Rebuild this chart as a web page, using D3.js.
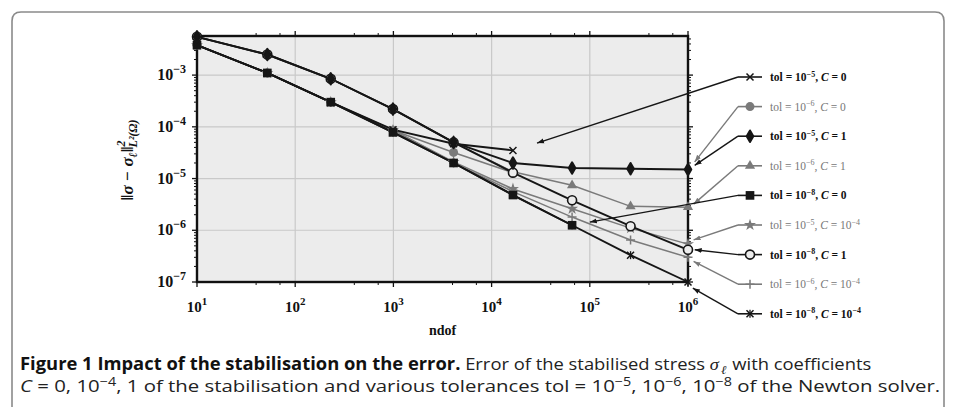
<!DOCTYPE html>
<html>
<head>
<meta charset="utf-8">
<script src="https://cdn.jsdelivr.net/npm/d3@7"></script>
<style>
body { margin: 0; background: #fff; }
</style>
</head>
<body>
<script>
// degrees of freedom (x values)
var ndof = [10, 52, 230, 990, 4100, 16500, 66000, 260000, 1000000];

// error values per series, legend order
var tol5C0    = [3.8e-3, 1.1e-3, 3.0e-4, 8.8e-5, 4.7e-5, 3.5e-5];
var tol6C0    = [3.8e-3, 1.1e-3, 3.0e-4, 8.6e-5, 3.2e-5, 1.3e-5];
var tol5C1    = [5.5e-3, 2.5e-3, 8.5e-4, 2.2e-4, 5.0e-5, 2.0e-5, 1.6e-5, 1.55e-5, 1.5e-5];
var tol6C1    = [5.5e-3, 2.5e-3, 8.5e-4, 2.2e-4, 5.0e-5, 1.35e-5, 7.4e-6, 2.9e-6, 2.8e-6];
var tol8C0    = [3.8e-3, 1.1e-3, 3.0e-4, 7.8e-5, 2.0e-5, 4.8e-6, 1.25e-6];
var tol5C1e4  = [3.8e-3, 1.1e-3, 3.0e-4, 8.6e-5, 2.1e-5, 6.3e-6, 2.6e-6, 1.1e-6, 5.4e-7];
var tol8C1    = [5.5e-3, 2.5e-3, 8.5e-4, 2.2e-4, 5.0e-5, 1.3e-5, 3.8e-6, 1.2e-6, 4.2e-7];
var tol6C1e4  = [3.8e-3, 1.1e-3, 3.0e-4, 8.6e-5, 2.0e-5, 5.6e-6, 1.8e-6, 6.5e-7, 3.0e-7];
var tol8C1e4  = [3.8e-3, 1.1e-3, 3.0e-4, 7.8e-5, 2.0e-5, 4.8e-6, 1.25e-6, 3.3e-7, 1.0e-7];

// where each legend arrow points (ndof, error)
var arrowNdof  = [29000, 1.17e6, 1.17e6, 1.14e6, 1.0e5, 1.14e6, 1.17e6, 1.14e6, 1.12e6];
var arrowError = [4.85e-5, 2.1e-5, 1.8e-5, 3.2e-6, 1.44e-6, 6.5e-7, 4.2e-7, 2.5e-7, 7.6e-8];

// legend labels
var tolExp = ["−5", "−6", "−5", "−6", "−8", "−5", "−8", "−6", "−8"];
var cBase  = ["0", "0", "1", "1", "0", "10", "1", "10", "10"];
var cExp   = ["", "", "", "", "", "−4", "", "−4", "−4"];

var xTickExp = ["1", "2", "3", "4", "5", "6"];
var yTickExp = ["−3", "−4", "−5", "−6", "−7"];

var allSeries = [tol5C0, tol6C0, tol5C1, tol6C1, tol8C0, tol5C1e4, tol8C1, tol6C1e4, tol8C1e4];
var markers = ["x", "dot", "diamond", "triangle", "square", "star", "ocircle", "plus", "asterisk"];
var black = "#161616", gray = "#7a7a7a";
var colors = [black, gray, black, gray, black, gray, black, gray, black];
var drawOrder = [1, 3, 5, 7, 6, 0, 4, 8, 2];

var width = 956, height = 407;
var svg = d3.select("body").append("svg")
  .attr("width", width).attr("height", height)
  .style("font-family", "'Liberation Serif', 'DejaVu Serif', serif");

// outer frame
svg.append("path")
  .attr("d", "M12,407 V21 Q12,12 21,12 H935 Q944,12 944,21 V407")
  .attr("fill", "none").attr("stroke", "#8a8a8a").attr("stroke-width", 1.6);

var x = d3.scaleLog().domain([10, 1e6]).range([197, 688]);
var y = d3.scaleLog().domain([1e-7, 5.7e-3]).range([282, 36]);

var plot = svg.append("g");
plot.append("rect")
  .attr("x", x(10)).attr("y", y(5.7e-3))
  .attr("width", x(1e6) - x(10)).attr("height", y(1e-7) - y(5.7e-3))
  .attr("fill", "#ececec");

// grid
var xDecades = [10, 100, 1000, 1e4, 1e5, 1e6];
var yDecades = [1e-3, 1e-4, 1e-5, 1e-6, 1e-7];
plot.selectAll(".gx").data(xDecades.slice(1, -1)).enter().append("line")
  .attr("x1", function(d){ return x(d); }).attr("x2", function(d){ return x(d); })
  .attr("y1", y(5.7e-3)).attr("y2", y(1e-7))
  .attr("stroke", "#c9c9c9").attr("stroke-width", 1.2);
plot.selectAll(".gy").data(yDecades.slice(0, -1)).enter().append("line")
  .attr("x1", x(10)).attr("x2", x(1e6))
  .attr("y1", function(d){ return y(d); }).attr("y2", function(d){ return y(d); })
  .attr("stroke", "#c9c9c9").attr("stroke-width", 1.2);

// ticks
var xMinor = [];
xDecades.slice(0, -1).forEach(function(d){ xMinor.push(d * 4, d * 7); });
var yMinor = [];
[1e-7, 1e-6, 1e-5, 1e-4, 1e-3].forEach(function(d){
  for (var k = 2; k <= 9; k++) if (d * k <= 5.7e-3) yMinor.push(d * k);
});
var tk = svg.append("g").attr("stroke", "#111");
xDecades.forEach(function(d){
  tk.append("line").attr("x1", x(d)).attr("x2", x(d)).attr("y1", y(5.7e-3)).attr("y2", y(5.7e-3) - 5).attr("stroke-width", 1.3);
  tk.append("line").attr("x1", x(d)).attr("x2", x(d)).attr("y1", y(1e-7)).attr("y2", y(1e-7) + 5).attr("stroke-width", 1.3);
});
xMinor.forEach(function(d){
  tk.append("line").attr("x1", x(d)).attr("x2", x(d)).attr("y1", y(5.7e-3)).attr("y2", y(5.7e-3) - 3).attr("stroke-width", 1);
  tk.append("line").attr("x1", x(d)).attr("x2", x(d)).attr("y1", y(1e-7)).attr("y2", y(1e-7) + 3).attr("stroke-width", 1);
});
yDecades.forEach(function(d){
  tk.append("line").attr("x1", x(10)).attr("x2", x(10) - 5).attr("y1", y(d)).attr("y2", y(d)).attr("stroke-width", 1.3);
  tk.append("line").attr("x1", x(1e6)).attr("x2", x(1e6) + 5).attr("y1", y(d)).attr("y2", y(d)).attr("stroke-width", 1.3);
});
yMinor.forEach(function(d){
  tk.append("line").attr("x1", x(10)).attr("x2", x(10) - 3).attr("y1", y(d)).attr("y2", y(d)).attr("stroke-width", 1);
  tk.append("line").attr("x1", x(1e6)).attr("x2", x(1e6) + 3).attr("y1", y(d)).attr("y2", y(d)).attr("stroke-width", 1);
});

// plot border
svg.append("rect")
  .attr("x", x(10)).attr("y", y(5.7e-3))
  .attr("width", x(1e6) - x(10)).attr("height", y(1e-7) - y(5.7e-3))
  .attr("fill", "none").attr("stroke", "#111").attr("stroke-width", 2.4);

// tick labels
xDecades.forEach(function(d, i){
  var t = svg.append("text").attr("x", x(d)).attr("y", 312)
    .attr("text-anchor", "middle").attr("font-weight", "bold").attr("font-size", 15).attr("fill", "#111");
  t.append("tspan").text("10");
  t.append("tspan").attr("dy", -7).attr("font-size", 11).text(xTickExp[i]);
});
yDecades.forEach(function(d, i){
  var t = svg.append("text").attr("x", 186).attr("y", y(d) + 5)
    .attr("text-anchor", "end").attr("font-weight", "bold").attr("font-size", 16).attr("fill", "#111");
  t.append("tspan").text("10");
  t.append("tspan").attr("dy", -7).attr("font-size", 12).text(yTickExp[i]);
});

svg.append("text").attr("x", (x(10) + x(1e6)) / 2).attr("y", 335)
  .attr("text-anchor", "middle").attr("font-weight", "bold").attr("font-size", 14)
  .attr("fill", "#111").text("ndof");

// y axis label
var yl = svg.append("text").attr("transform", "translate(133,160) rotate(-90)")
  .attr("text-anchor", "middle").attr("font-weight", "bold").attr("font-style", "italic")
  .attr("font-size", 17).attr("fill", "#111");
yl.append("tspan").text("‖σ − σ");
yl.append("tspan").attr("dy", 4).attr("font-size", 12).text("ℓ");
yl.append("tspan").attr("dy", -4).text("‖");
yl.append("tspan").attr("dy", -8).attr("font-size", 12).text("2");
yl.append("tspan").attr("dx", -7).attr("dy", 12).attr("font-size", 12).text("L²(Ω)");

// series lines
var line = d3.line()
  .x(function(d, i){ return x(ndof[i]); })
  .y(function(d){ return y(d); });

function drawMarker(g, type, cx, cy, col){
  var m = g.append("g").attr("transform", "translate(" + cx + "," + cy + ")");
  if (type === "x" || type === "asterisk") {
    m.append("path").attr("d", "M-3.5,-3.5L3.5,3.5M-3.5,3.5L3.5,-3.5").attr("stroke", col).attr("stroke-width", 1.5);
    if (type === "asterisk") m.append("path").attr("d", "M0,-4V4").attr("stroke", col).attr("stroke-width", 1.3);
  } else if (type === "plus") {
    m.append("path").attr("d", "M-4.5,0H4.5M0,-4.5V4.5").attr("stroke", col).attr("stroke-width", 1.5);
  } else if (type === "ocircle") {
    m.append("circle").attr("r", 4.5).attr("fill", "#ececec").attr("stroke", col).attr("stroke-width", 1.6);
  } else if (type === "dot") {
    m.append("circle").attr("r", 4.5).attr("fill", col);
  } else {
    var sym = { diamond: [d3.symbolDiamond, 38], triangle: [d3.symbolTriangle, 45],
                square: [d3.symbolSquare, 75], star: [d3.symbolStar, 45] }[type];
    m.append("path").attr("d", d3.symbol().type(sym[0]).size(sym[1])()).attr("fill", col)
      .attr("stroke", col).attr("stroke-width", type === "diamond" ? 2 : 0).attr("stroke-linejoin", "round");
  }
}

var lines = svg.append("g");
drawOrder.forEach(function(k){
  lines.append("path").attr("d", line(allSeries[k])).attr("fill", "none")
    .attr("stroke", colors[k]).attr("stroke-width", colors[k] === black ? 1.9 : 1.5);
});
drawOrder.forEach(function(k){
  allSeries[k].forEach(function(v, i){ drawMarker(lines, markers[k], x(ndof[i]), y(v), colors[k]); });
});

// legend with arrows
var defs = svg.append("defs");
[["ah-black", black], ["ah-gray", gray]].forEach(function(a){
  defs.append("marker").attr("id", a[0]).attr("viewBox", "0 0 10 10")
    .attr("refX", 10).attr("refY", 5).attr("markerWidth", 7).attr("markerHeight", 7)
    .attr("markerUnits", "userSpaceOnUse").attr("orient", "auto")
    .append("path").attr("d", "M0,1.5L10,5L0,8.5Z").attr("fill", a[1]);
});

var leg = svg.append("g");
allSeries.forEach(function(s, k){
  var ry = 77 + k * 29.6;
  var col = colors[k];
  var isBlack = col === black;
  leg.append("line").attr("x1", 738).attr("x2", x(arrowNdof[k])).attr("y1", ry).attr("y2", y(arrowError[k]))
    .attr("stroke", col).attr("stroke-width", 1.4)
    .attr("marker-end", "url(#" + (isBlack ? "ah-black" : "ah-gray") + ")");
  leg.append("line").attr("x1", 738).attr("x2", 762).attr("y1", ry).attr("y2", ry)
    .attr("stroke", col).attr("stroke-width", 1.6);
  drawMarker(leg, markers[k], 750, ry, col);
  var t = leg.append("text").attr("x", 770).attr("y", ry + 4)
    .attr("font-size", 11.5).attr("fill", isBlack ? "#111" : "#777")
    .attr("font-weight", isBlack ? "bold" : "normal");
  t.append("tspan").text("tol = 10");
  t.append("tspan").attr("dy", -4.5).attr("font-size", 8).text(tolExp[k]);
  t.append("tspan").attr("dy", 4.5).text(", ");
  t.append("tspan").attr("font-style", "italic").text("C");
  t.append("tspan").text(" = " + cBase[k]);
  if (cExp[k]) t.append("tspan").attr("dy", -4.5).attr("font-size", 8).text(cExp[k]);
});

// caption, squeezed horizontally to the reference's narrow face
var cap = svg.append("g").style("font-family", "'Open Sans', 'Liberation Sans', sans-serif")
  .attr("fill", "#222").attr("font-size", 17);

function fitLine(text, x0, y0, w){
  var len = text.node().getComputedTextLength();
  text.attr("transform", "translate(" + x0 + "," + y0 + ") scale(" + (w / len) + ",1)");
}

var c1 = cap.append("text");
c1.append("tspan").attr("font-weight", "bold").attr("fill", "#111").text("Figure 1 Impact of the stabilisation on the error.");
c1.append("tspan").text(" Error of the stabilised stress ");
c1.append("tspan").attr("font-style", "italic").attr("font-family", "'Liberation Serif', serif").text("σ");
c1.append("tspan").attr("dx", 2).attr("dy", 4).attr("font-size", 12).attr("font-style", "italic").attr("font-family", "'Liberation Serif', serif").text("ℓ");
c1.append("tspan").attr("dx", 1).attr("dy", -4).text(" with coefficients");
fitLine(c1, 20, 370, 849);

var c2 = cap.append("text");
c2.append("tspan").attr("font-style", "italic").text("C");
c2.append("tspan").text(" = 0, 10");
c2.append("tspan").attr("dy", -6).attr("font-size", 12).text("−4");
c2.append("tspan").attr("dy", 6).text(", 1 of the stabilisation and various tolerances tol = 10");
c2.append("tspan").attr("dy", -6).attr("font-size", 12).text("−5");
c2.append("tspan").attr("dy", 6).text(", 10");
c2.append("tspan").attr("dy", -6).attr("font-size", 12).text("−6");
c2.append("tspan").attr("dy", 6).text(", 10");
c2.append("tspan").attr("dy", -6).attr("font-size", 12).text("−8");
c2.append("tspan").attr("dy", 6).text(" of the Newton solver.");
fitLine(c2, 20, 392, 921);
</script>
</body>
</html>
